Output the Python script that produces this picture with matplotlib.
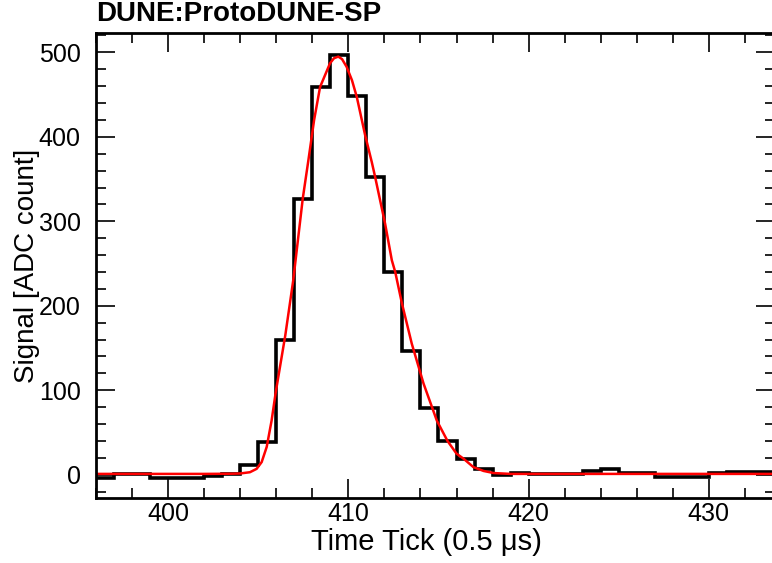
import numpy as np
import matplotlib
matplotlib.use("Agg")
import matplotlib.pyplot as plt
from matplotlib.ticker import MultipleLocator

plt.rcParams['font.family'] = ['Liberation Sans', 'DejaVu Sans']

# histogram: one bin per time tick, starting at tick 396
first_tick = 396
signal = [-4, 1, 1, -3.5, -3.5, -3.5, -1.5, 1, 11, 39,
          159, 327, 459, 497, 448, 353, 240, 147, 79, 40,
          19, 7, 0, 2.5, 1, 1, 1, 4, 7, 2.5,
          2.5, -3, -3, -3, 2.3, 3, 3, 3]

# fitted curve, points
fit_x = [396, 402, 403.5, 404, 404.54, 404.91, 405.19, 405.47, 405.74, 405.98,
         406.5, 406.94, 407.47, 407.78, 408.1, 408.43, 408.98, 409.2, 409.44, 409.65,
         409.9, 410.2, 410.47, 410.93, 411.3, 411.48, 412.04, 412.41, 412.6, 412.97,
         413.52, 414.17, 414.91, 415.5, 416.0, 416.39, 416.94, 417.5, 418.06, 419, 434]
fit_y = [1, 1, 1.2, 1.5, 3, 7, 15, 33, 64, 99,
         165, 230, 327, 372, 420, 459, 487, 493, 495, 492,
         483, 467, 447, 402, 370, 353, 297, 254, 240, 203,
         155, 108, 64, 40, 25, 19, 9, 4.5, 2, 1, 1]

edges = np.arange(first_tick, first_tick + len(signal) + 1)

fig = plt.figure(figsize=(7.72, 5.63), dpi=100)
ax = fig.add_axes([0.1244, 0.1155, 0.879, 0.826])

ax.stairs(signal, edges, color='black', linewidth=2.6, baseline=None)
ax.plot(fit_x, fit_y, color='red', linewidth=1.8)

ax.set_xlim(396, 433.65)
ax.set_ylim(-27.5, 523)

ax.xaxis.set_major_locator(MultipleLocator(10))
ax.xaxis.set_minor_locator(MultipleLocator(2))
ax.yaxis.set_major_locator(MultipleLocator(100))
ax.yaxis.set_minor_locator(MultipleLocator(20))
ax.tick_params(which='both', direction='in', top=True, right=True, labelsize=18, width=1.2)
ax.tick_params(which='major', length=14)
ax.tick_params(which='minor', length=7)
ax.tick_params(axis='x', pad=3)
ax.tick_params(axis='y', pad=11)
for s in ax.spines.values():
    s.set_linewidth(2)

ax.set_xlabel('Time Tick (0.5 \u03bcs)', fontsize=21)
ax.xaxis.set_label_coords(0.487, -0.064)
ax.set_ylabel('Signal [ADC count]', fontsize=20)
ax.yaxis.set_label_coords(-0.083, 0.5)
fig.text(0.1244, 0.962, 'DUNE:ProtoDUNE-SP', fontsize=20, fontweight='bold', va='baseline')

fig.savefig('out.png', dpi=100)
